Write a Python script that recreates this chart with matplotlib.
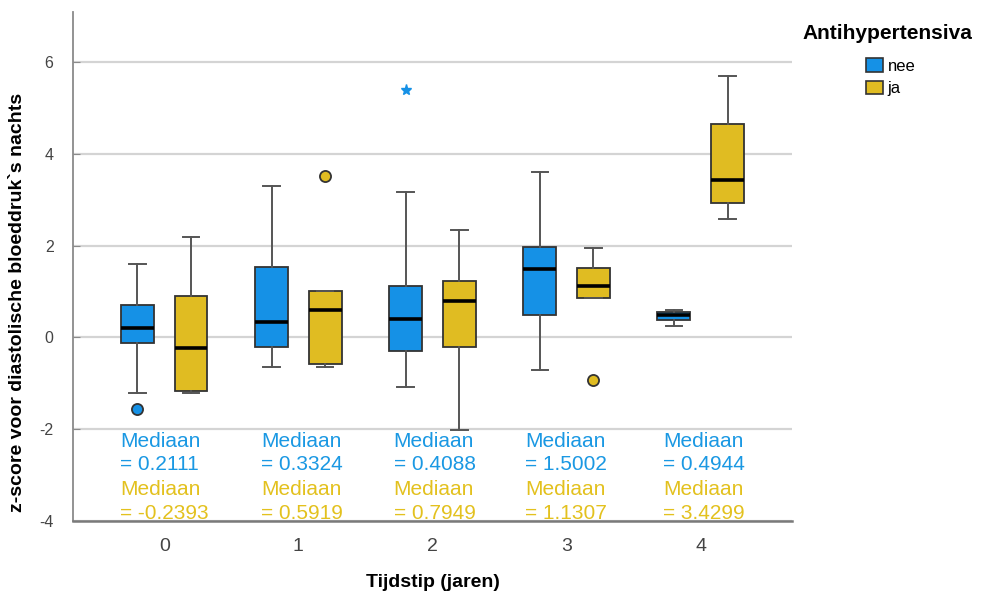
import matplotlib
matplotlib.use("Agg")
import matplotlib.pyplot as plt
from matplotlib.patches import Patch

plt.rcParams['font.family'] = ['Liberation Sans', 'DejaVu Sans']
plt.rcParams['axes.unicode_minus'] = False

# tijdstippen (jaren)
tijdstip = [0, 1, 2, 3, 4]

# vijf-getallen samenvatting per groep: whisker laag, Q1, mediaan, Q3, whisker hoog
nee_whislo = [-1.22, -0.65, -1.09, -0.71, 0.25]
nee_q1 = [-0.12, -0.20, -0.30, 0.48, 0.38]
nee_med = [0.2111, 0.3324, 0.4088, 1.5002, 0.4944]
nee_q3 = [0.70, 1.53, 1.11, 1.96, 0.56]
nee_whishi = [1.61, 3.31, 3.16, 3.60, 0.60]
nee_outliers = [[-1.57], [], [], [], []]
nee_extremes = [[], [], [5.39], [], []]

ja_whislo = [-1.22, -0.65, -2.01, 0.85, 2.57]
ja_q1 = [-1.17, -0.57, -0.21, 0.85, 2.92]
ja_med = [-0.2393, 0.5919, 0.7949, 1.1307, 3.4299]
ja_q3 = [0.91, 1.02, 1.24, 1.51, 4.65]
ja_whishi = [2.19, 1.02, 2.33, 1.94, 5.70]
ja_outliers = [[], [3.51], [], [-0.93], []]
ja_extremes = [[], [], [], [], []]

groepen = ["nee", "ja"]
kleur_nee = "#1591e6"
kleur_ja = "#e0bc22"
tekst_nee = "#1a98e3"
tekst_ja = "#e3c11e"


def stats(whislo, q1, med, q3, whishi, fliers):
    out = []
    for i in range(len(med)):
        out.append(dict(whislo=whislo[i], q1=q1[i], med=med[i], q3=q3[i],
                        whishi=whishi[i], fliers=fliers[i]))
    return out


fig = plt.figure(figsize=(9.84, 6.01), dpi=100)
ax = fig.add_axes([0.0742, 0.1331, 0.7306, 0.8469])

offset = 0.2
breedte = 0.245
series = [
    (stats(nee_whislo, nee_q1, nee_med, nee_q3, nee_whishi, nee_outliers), -offset, kleur_nee, nee_extremes),
    (stats(ja_whislo, ja_q1, ja_med, ja_q3, ja_whishi, ja_outliers), offset, kleur_ja, ja_extremes),
]

for st, dx, kleur, extremes in series:
    pos = [t + dx for t in tijdstip]
    ax.bxp(st, positions=pos, widths=breedte, capwidths=breedte * 0.5,
           patch_artist=True, showfliers=True,
           boxprops=dict(facecolor=kleur, edgecolor="#333333", linewidth=1.3),
           whiskerprops=dict(color="#555555", linewidth=1.4),
           capprops=dict(color="#555555", linewidth=1.4),
           medianprops=dict(color="black", linewidth=2.6),
           flierprops=dict(marker="o", markerfacecolor=kleur, markeredgecolor="#333333",
                           markersize=8, markeredgewidth=1.3),
           zorder=3)
    for p, ex in zip(pos, extremes):
        for v in ex:
            ax.plot(p, v, marker="*", color=kleur, markersize=8, linestyle="none", zorder=4)

# mediaan labels onder de boxen
label_x = [-0.33, 0.72, 1.71, 2.69, 3.72]
for i in range(len(tijdstip)):
    ax.text(label_x[i], -2.38, "Mediaan", color=tekst_nee, fontsize=15, va="baseline")
    ax.text(label_x[i], -2.89, "= %.4f" % nee_med[i], color=tekst_nee, fontsize=15, va="baseline")
    ax.text(label_x[i], -3.44, "Mediaan", color=tekst_ja, fontsize=15, va="baseline")
    ax.text(label_x[i], -3.96, "= %.4f" % ja_med[i], color=tekst_ja, fontsize=15, va="baseline")

ax.set_xlim(-0.68, 4.68)
ax.set_ylim(-4, 7.09)
ax.set_yticks([-4, -2, 0, 2, 4, 6])
ax.set_xticks(tijdstip)
ax.set_xticklabels([str(t) for t in tijdstip])
ax.yaxis.grid(True, color="#d4d4d4", linewidth=1.6, zorder=0)
ax.set_axisbelow(True)

for s in ["top", "right"]:
    ax.spines[s].set_visible(False)
ax.spines["left"].set_color("#8a8a8a")
ax.spines["left"].set_linewidth(1.3)
ax.spines["bottom"].set_color("#7a7a7a")
ax.spines["bottom"].set_linewidth(1.8)

ax.tick_params(axis="y", direction="in", length=5, color="#8a8a8a", labelsize=11.5,
               labelcolor="#444444", pad=14)
ax.tick_params(axis="x", length=0, labelsize=14, labelcolor="#444444", pad=12)

ax.set_xlabel("Tijdstip (jaren)", fontsize=14, fontweight="bold", labelpad=14)
ax.set_ylabel("z-score voor diastolische bloeddruk`s nachts", fontsize=14, fontweight="bold")
ax.yaxis.set_label_coords(-0.065, 0.43)

# legenda: titel los, items ingesprongen eronder
fig.text(0.816, 0.945, "Antihypertensiva", fontsize=15, fontweight="bold", va="center")
handles = [Patch(facecolor=kleur_nee, edgecolor="#333333", linewidth=1.2, label=groepen[0]),
           Patch(facecolor=kleur_ja, edgecolor="#333333", linewidth=1.2, label=groepen[1])]
leg = fig.legend(handles=handles, loc="upper left", bbox_to_anchor=(0.865, 0.928),
                 frameon=False, fontsize=12, handlelength=1.0, handleheight=0.9,
                 handletextpad=0.3, labelspacing=0.4)

fig.savefig("out.png", dpi=100)
